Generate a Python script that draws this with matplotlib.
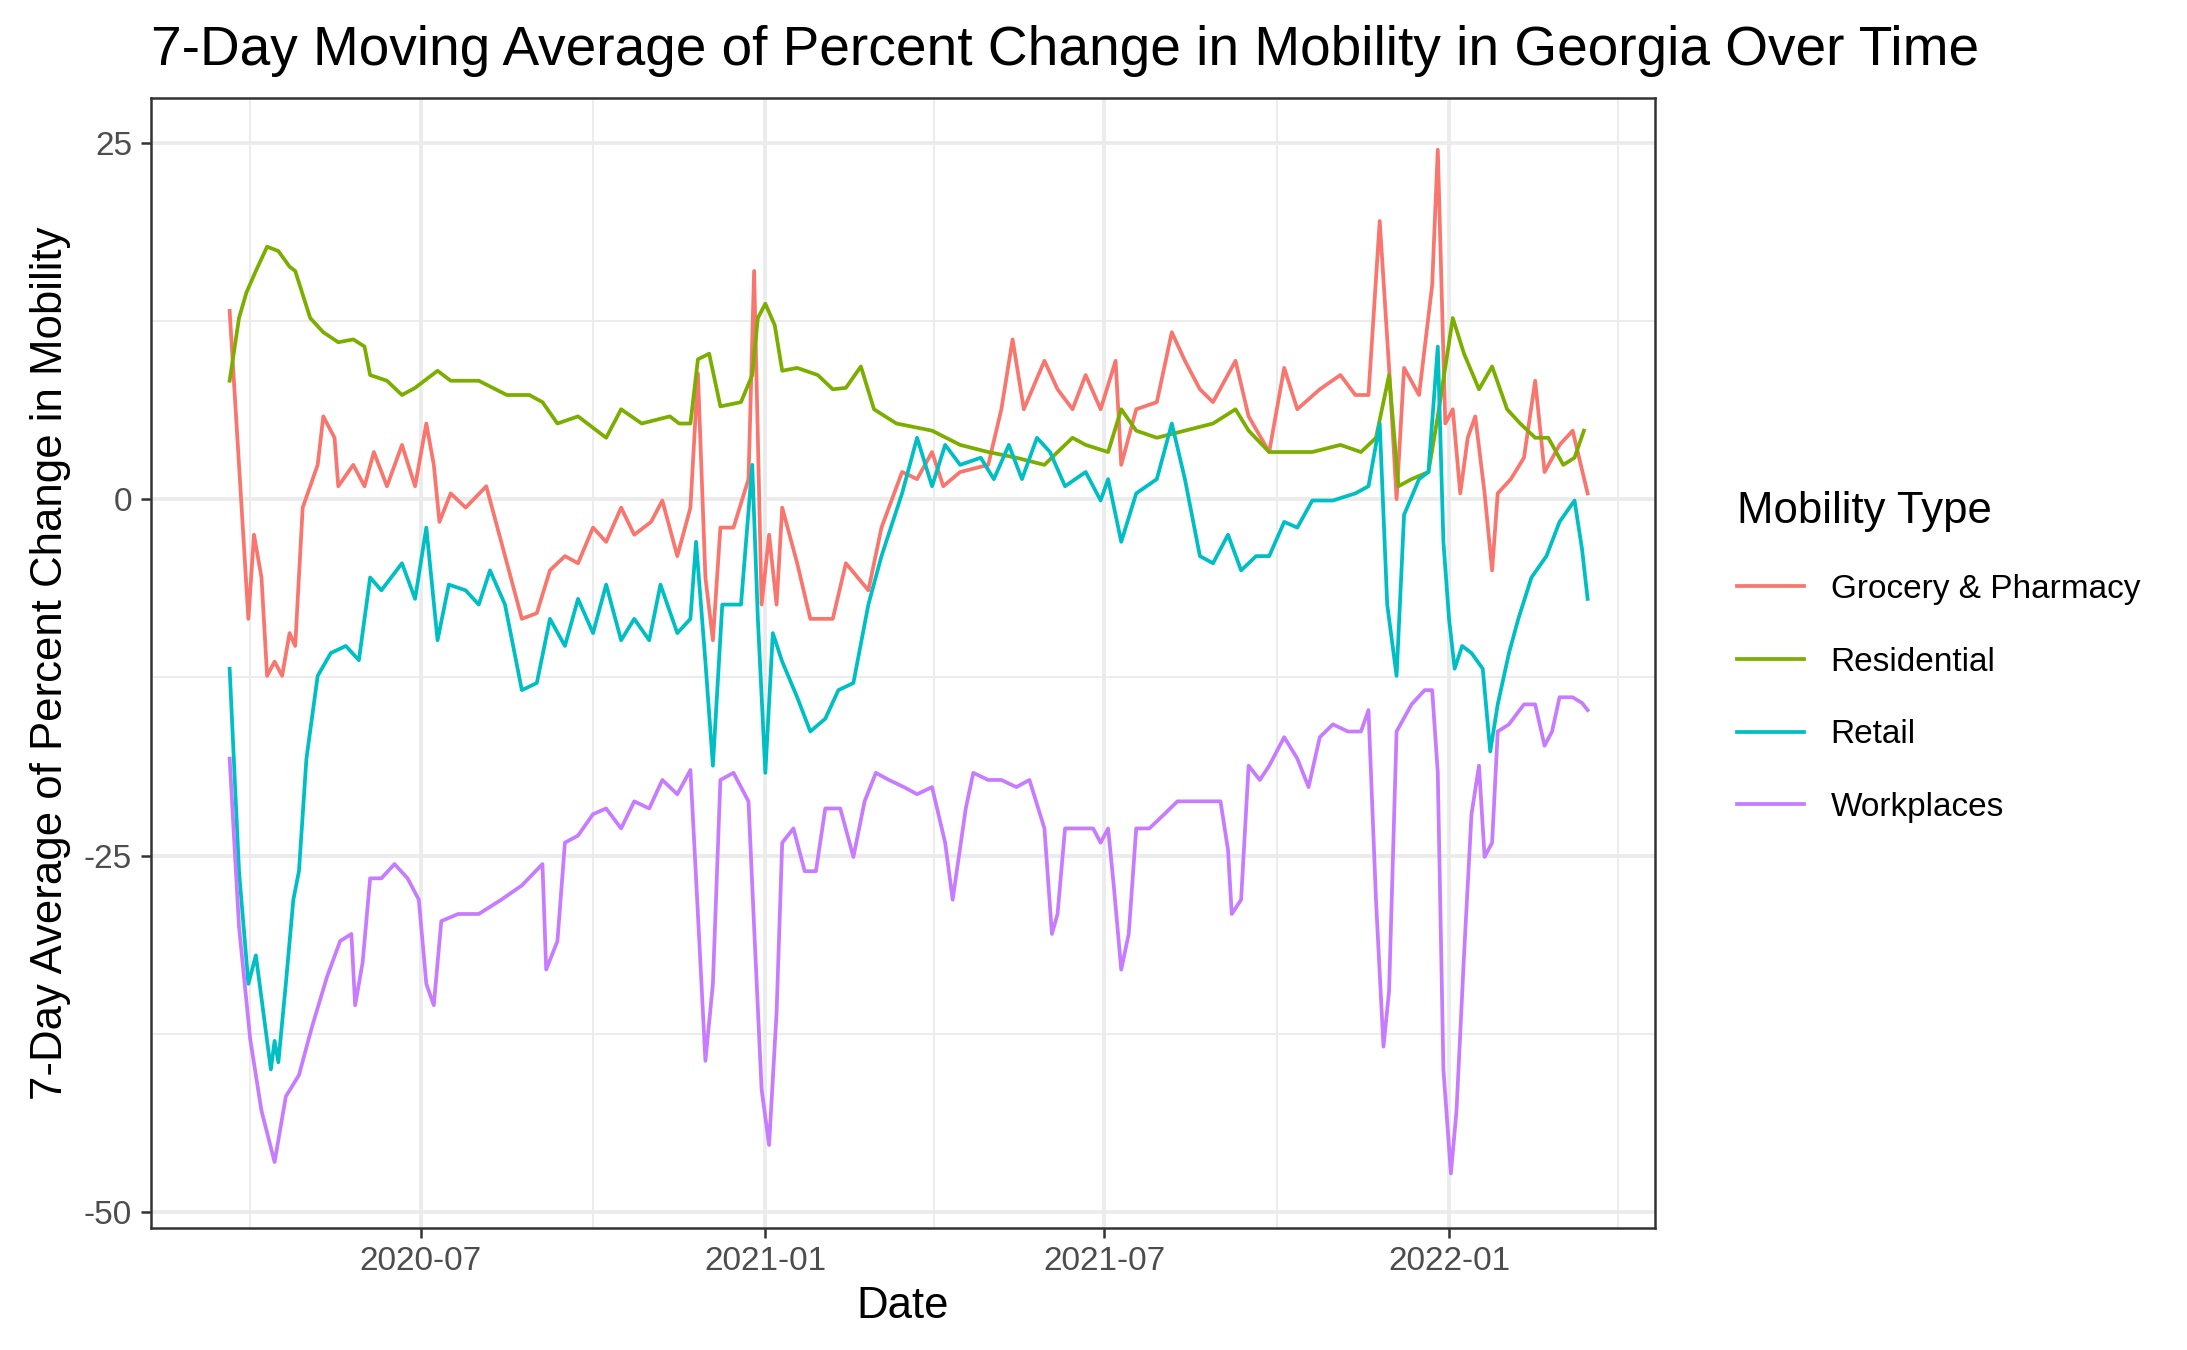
import matplotlib
matplotlib.use("Agg")
import matplotlib.pyplot as plt
import pandas as pd

start = pd.Timestamp("2020-03-21")

groc_days = [0,5,10,13,17,20,24,28,32,35,39,47,50,56,58,66,72,77,84,92,99,105,109,112,118,126,137,145,156,164,171,179,186,194,201,209,216,225,231,239,246,250,254,258,262,269,277,280,284,288,292,295,303,310,322,329,341,348,359,367,375,381,390,405,412,418,424,435,442,450,457,465,473,476,484,495,503,510,518,525,537,544,555,563,570,582,593,601,608,614,619,623,627,635,642,645,649,653,657,661,665,670,674,677,684,691,697,702,710,717,725]
groc_vals = [13.2,2.4,-8.4,-2.5,-5.5,-12.4,-11.4,-12.4,-9.4,-10.3,-0.6,2.4,5.8,4.3,0.9,2.4,0.9,3.3,0.9,3.8,0.9,5.3,2.4,-1.6,0.4,-0.6,0.9,-3.0,-8.4,-8.0,-5.0,-4.0,-4.5,-2.0,-3.0,-0.6,-2.5,-1.6,-0.1,-4.0,-0.6,8.8,-5.5,-9.9,-2.0,-2.0,1.4,16.0,-7.4,-2.5,-7.4,-0.6,-4.5,-8.4,-8.4,-4.5,-6.4,-2.0,1.9,1.4,3.3,0.9,1.9,2.4,6.3,11.2,6.3,9.7,7.7,6.3,8.7,6.3,9.7,2.4,6.3,6.8,11.7,9.7,7.7,6.8,9.7,5.8,3.3,9.2,6.3,7.7,8.7,7.3,7.3,19.5,9.2,0.0,9.2,7.3,15.0,24.5,5.3,6.3,0.4,4.3,5.8,0.4,-5.0,0.4,1.4,2.9,8.3,1.9,3.8,4.8,0.4]

res_days = [0,5,9,14,20,26,32,35,43,50,58,66,72,75,84,92,99,111,118,133,148,160,167,175,186,201,209,220,235,240,246,250,256,262,273,279,282,286,291,295,303,314,322,329,337,344,356,375,390,405,420,435,442,450,457,469,476,484,495,510,525,537,544,555,567,578,593,604,612,619,624,631,640,645,653,659,667,674,682,689,697,704,712,718,723]
res_vals = [8.3,12.7,14.5,16.0,17.7,17.4,16.3,16.0,12.7,11.7,11.0,11.2,10.7,8.7,8.3,7.3,7.8,9.0,8.3,8.3,7.3,7.3,6.8,5.3,5.8,4.3,6.3,5.3,5.8,5.3,5.3,9.8,10.2,6.5,6.8,8.7,12.7,13.7,12.2,9.0,9.2,8.7,7.7,7.8,9.3,6.3,5.3,4.8,3.8,3.3,2.9,2.4,3.3,4.3,3.8,3.3,6.3,4.8,4.3,4.8,5.3,6.3,4.8,3.3,3.3,3.3,3.8,3.3,4.3,8.7,0.9,1.4,1.9,5.8,12.7,10.2,7.7,9.3,6.3,5.3,4.3,4.3,2.4,2.9,4.8]

ret_days = [0,5,10,14,19,22,24,26,30,34,37,41,47,54,62,69,75,81,92,99,105,111,117,126,133,139,147,156,164,171,179,186,194,201,209,216,224,230,239,246,249,254,258,263,273,279,282,286,290,295,303,310,318,325,333,341,348,359,367,375,382,390,401,408,416,423,431,438,446,457,465,469,476,484,495,503,510,518,525,533,540,548,555,563,570,578,589,601,608,614,618,623,627,635,640,645,648,651,654,658,663,669,673,677,683,688,695,703,710,718,722,725]
ret_vals = [-11.9,-26.1,-34.0,-32.0,-37.0,-40.0,-38.0,-39.5,-34.0,-28.1,-26.1,-18.2,-12.4,-10.8,-10.3,-11.3,-5.5,-6.4,-4.5,-7.0,-2.0,-9.9,-6.0,-6.4,-7.4,-5.0,-7.4,-13.4,-12.9,-8.4,-10.3,-7.0,-9.4,-6.0,-9.9,-8.4,-9.9,-6.0,-9.4,-8.4,-3.0,-11.4,-18.7,-7.4,-7.4,2.4,-8.4,-19.2,-9.4,-11.4,-13.9,-16.3,-15.4,-13.4,-12.9,-7.4,-4.0,0.4,4.3,0.9,3.8,2.4,2.9,1.4,3.8,1.4,4.3,3.3,0.9,1.9,-0.1,1.4,-3.0,0.4,1.4,5.3,1.4,-4.0,-4.5,-2.5,-5.0,-4.0,-4.0,-1.6,-2.0,-0.1,-0.1,0.4,0.9,5.3,-7.4,-12.4,-1.1,1.4,1.9,10.7,-3.0,-8.4,-11.9,-10.3,-10.8,-11.9,-17.7,-14.4,-10.8,-8.4,-5.5,-4.0,-1.6,-0.1,-3.5,-7.0]

work_days = [0,5,11,17,24,30,37,44,52,59,65,67,71,75,81,88,95,101,105,109,113,122,133,145,156,167,169,175,179,186,194,201,209,216,224,231,239,246,250,254,258,262,269,277,280,284,288,292,295,301,307,313,318,326,333,339,345,352,360,367,375,382,386,393,397,405,412,420,427,435,439,442,446,454,461,465,469,472,476,480,484,491,499,506,518,529,533,535,540,544,550,555,563,570,576,582,589,597,604,608,612,616,619,623,631,638,642,645,648,652,655,659,663,667,670,674,677,683,691,697,702,706,710,717,722,725]
work_vals = [-18.2,-30.0,-37.9,-42.9,-46.5,-41.9,-40.4,-37.0,-33.5,-31.0,-30.5,-35.5,-32.5,-26.6,-26.6,-25.6,-26.6,-28.1,-34.0,-35.5,-29.6,-29.1,-29.1,-28.1,-27.1,-25.6,-33.0,-31.0,-24.1,-23.6,-22.1,-21.7,-23.1,-21.2,-21.7,-19.7,-20.7,-19.0,-29.1,-39.4,-34.0,-19.7,-19.2,-21.2,-30.0,-41.4,-45.3,-36.0,-24.1,-23.1,-26.1,-26.1,-21.7,-21.7,-25.1,-21.2,-19.2,-19.7,-20.2,-20.7,-20.2,-24.1,-28.1,-21.7,-19.2,-19.7,-19.7,-20.2,-19.7,-23.1,-30.5,-29.1,-23.1,-23.1,-23.1,-24.1,-23.1,-27.1,-33.0,-30.5,-23.1,-23.1,-22.1,-21.2,-21.2,-21.2,-24.6,-29.1,-28.1,-18.7,-19.7,-18.7,-16.7,-18.2,-20.2,-16.7,-15.8,-16.3,-16.3,-14.8,-28.1,-38.4,-34.5,-16.3,-14.4,-13.4,-13.4,-19.2,-40.0,-47.3,-42.9,-32.0,-22.1,-18.7,-25.1,-24.1,-16.3,-15.8,-14.4,-14.4,-17.3,-16.3,-13.9,-13.9,-14.3,-14.8]

series = [("Grocery & Pharmacy", groc_days, groc_vals, "#F8766D"),
          ("Residential", res_days, res_vals, "#7CAE00"),
          ("Retail", ret_days, ret_vals, "#00BFC4"),
          ("Workplaces", work_days, work_vals, "#C77CFF")]

plt.rcParams['font.family'] = ['Liberation Sans', 'DejaVu Sans']
plt.rcParams['axes.unicode_minus'] = False
fig = plt.figure(figsize=(7.29, 4.5), dpi=300)
ax = fig.add_axes([107/1550, 1-873/960, (1173-107)/1550, (873-70)/960])

for name, d, v, c in series:
    dates = start + pd.to_timedelta(d, unit="D")
    ax.plot(dates, v, color=c, lw=0.9, label=name)

ax.set_xlim(start + pd.Timedelta(days=-42), start + pd.Timedelta(days=761))
ax.set_ylim(-51.1, 28.1)
major = pd.to_datetime(["2020-07-01", "2021-01-01", "2021-07-01", "2022-01-01"])
minor = pd.to_datetime(["2020-04-01", "2020-10-01", "2021-04-01", "2021-10-01", "2022-04-01"])
ax.set_xticks(major)
ax.set_xticklabels([d.strftime("%Y-%m") for d in major])
ax.set_xticks(minor, minor=True)
ax.set_yticks([-50, -25, 0, 25])
ax.set_yticks([-37.5, -12.5, 12.5], minor=True)
ax.grid(which="major", color="#EBEBEB", lw=0.9)
ax.grid(which="minor", color="#EBEBEB", lw=0.45)
ax.set_axisbelow(True)
for s in ax.spines.values():
    s.set_color("#333333"); s.set_linewidth(0.6)
ax.tick_params(which="major", length=2.5, width=0.6, color="#333333", labelsize=8, labelcolor="#4D4D4D", pad=2)
ax.tick_params(which="minor", length=0)
ax.set_xlabel("Date", fontsize=10.5, labelpad=2)
ax.set_ylabel("7-Day Average of Percent Change in Mobility", fontsize=10.5, labelpad=3)
ax.set_title("7-Day Moving Average of Percent Change in Mobility in Georgia Over Time", fontsize=13.2, loc="left", x=0.0, pad=8)

leg = fig.legend(*ax.get_legend_handles_labels(), loc="upper left", bbox_to_anchor=(1210/1550, 1-328/960),
                 title="Mobility Type", frameon=False, fontsize=8, title_fontsize=10.5,
                 handlelength=2.0, labelspacing=1.25, alignment="left")
fig.savefig("out.png", dpi=300)
